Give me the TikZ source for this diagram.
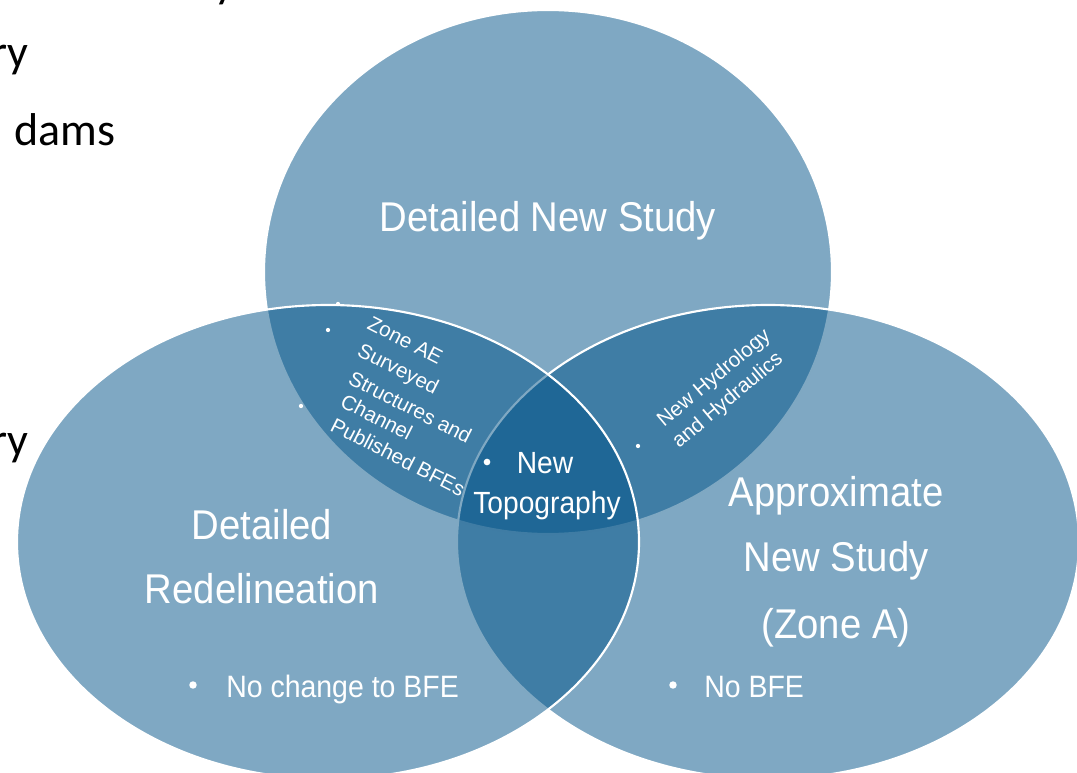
\documentclass[tikz,border=0pt]{standalone}
\usepackage{fontspec}
\setmainfont{Liberation Sans}
\newfontfamily\narrowfont[FakeStretch=0.92]{Liberation Sans}
\newfontfamily\calfont{Carlito}
\definecolor{vennblue}{RGB}{0,82,135}
\tikzset{
  venn/.style={fill=vennblue, fill opacity=0.5, draw=white, line width=1.6pt},
  biglabel/.style={text=white, font=\narrowfont\fontsize{31.2}{40}\selectfont, anchor=base, inner sep=0pt},
  midlabel/.style={text=white, font=\narrowfont\fontsize{23}{30}\selectfont, anchor=base, inner sep=0pt},
  smalllabel/.style={text=white, font=\fontsize{15.5}{18}\selectfont, anchor=base west, inner sep=0pt},
  bulletlabel/.style={text=white, font=\narrowfont\fontsize{23.2}{30}\selectfont, anchor=base west, inner sep=0pt},
  backtext/.style={text=black, font=\calfont\fontsize{34.5}{40}\selectfont, inner sep=0pt},
  dot/.style={fill=white, draw=none}
}
\begin{document}
\begin{tikzpicture}[x=0.75pt,y=-0.75pt]
\useasboundingbox (0,0) rectangle (1077,773);
% background slide text (cut off)
\node[backtext, anchor=base west] (bgy) at (214,-2) {y};
\node[backtext, anchor=base east] (bgry1) at (29,68) {ry};
\node[backtext, anchor=base west] (bgdams) at (14,146) {dams};
\node[backtext, anchor=base east] (bgry2) at (29,455) {ry};
% circles
\draw[venn] (548,272) ellipse [x radius=213pt, y radius=196.5pt];
\draw[venn] (768,542) ellipse [x radius=233.25pt, y radius=177.75pt];
\draw[venn] (328,542) ellipse [x radius=233.25pt, y radius=177.75pt];
% main labels
\node[biglabel] (dns) at (548,232) {Detailed New Study};
\node[biglabel] (dr1) at (262,539) {Detailed};
\node[biglabel] (dr2) at (262,603) {Redelineation};
\node[biglabel] (an1) at (836,506) {Approximate};
\node[biglabel] (an2) at (836,571) {New Study};
\node[biglabel] (an3) at (836,638) {(Zone A)};
% bottom bullets
\fill[dot] (193,685) circle (2.8pt);
\node[bulletlabel] (nochange) at (226,697) {No change to BFE};
\fill[dot] (673,685) circle (2.8pt);
\node[bulletlabel] (nobfe) at (704,697) {No BFE};
% center
\fill[dot] (487,462) circle (2.5pt);
\node[midlabel] (new) at (545,473) {New};
\node[midlabel] (topo) at (547,513) {Topography};
% left lens
\fill[dot] (338,304) circle (1.6pt);
\fill[dot] (328,330) circle (1.6pt);
\fill[dot] (301,406) circle (1.6pt);
\node[smalllabel, rotate=-27] (l1) at (366,328) {Zone AE};
\node[smalllabel, rotate=-27] (l2) at (356,355) {Surveyed};
\node[smalllabel, rotate=-27] (l3) at (347,383) {Structures and};
\node[smalllabel, rotate=-27] (l4) at (339,406) {Channel};
\node[smalllabel, rotate=-27] (l5) at (329,430) {Published BFEs};
% right lens
\fill[dot] (638,446) circle (1.6pt);
\node[smalllabel, rotate=40] (r1) at (664,428) {New Hydrology};
\node[smalllabel, rotate=40] (r2) at (679,449) {and Hydraulics};
\end{tikzpicture}
\end{document}
